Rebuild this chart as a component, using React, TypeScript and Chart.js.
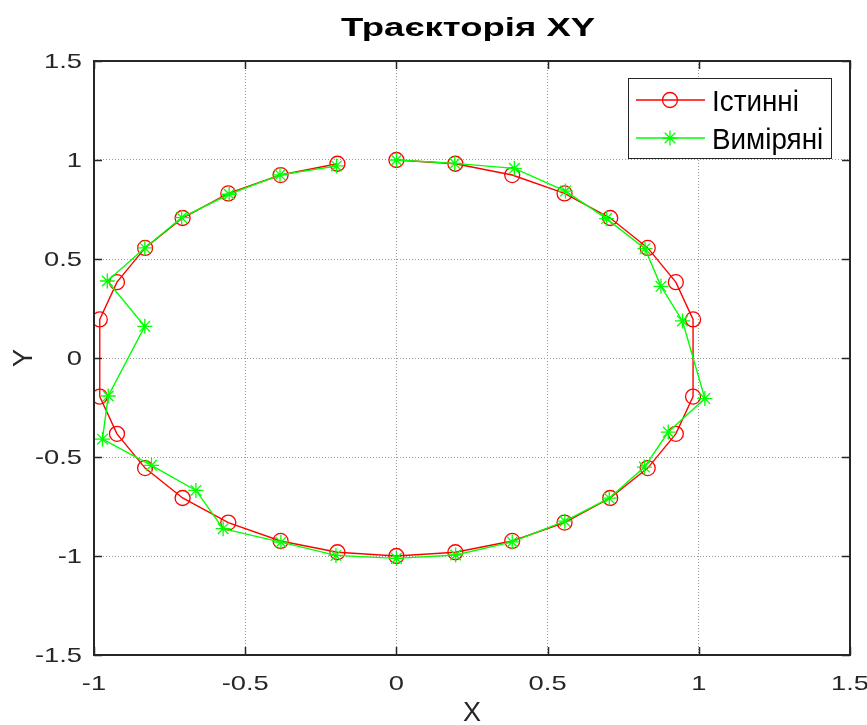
import React, { useEffect, useRef } from "react";
import { Chart, registerables } from "chart.js";

Chart.register(...registerables);

// Labels
const titleText = "Траєкторія XY";
const xAxisLabel = "X";
const yAxisLabel = "Y";
const trueName = "Істинні";
const measuredName = "Виміряні";

// Axis ticks
const xTicks = [-1, -0.5, 0, 0.5, 1, 1.5];
const yTicks = [-1.5, -1, -0.5, 0, 0.5, 1, 1.5];
const xTickLabels = ["-1", "-0.5", "0", "0.5", "1", "1.5"];
const yTickLabels = ["-1.5", "-1", "-0.5", "0", "0.5", "1", "1.5"];

// True trajectory
const trueX = [0, 0.195, 0.383, 0.556, 0.707, 0.831, 0.924, 0.981, 0.981, 0.924, 0.831, 0.707, 0.556, 0.383, 0.195, 0, -0.195, -0.383, -0.556, -0.707, -0.831, -0.924, -0.981, -0.981, -0.924, -0.831, -0.707, -0.556, -0.383, -0.195];
const trueY = [1, 0.981, 0.924, 0.831, 0.707, 0.556, 0.383, 0.195, -0.195, -0.383, -0.556, -0.707, -0.831, -0.924, -0.981, -1, -0.981, -0.924, -0.831, -0.707, -0.556, -0.383, -0.195, 0.195, 0.383, 0.556, 0.707, 0.831, 0.924, 0.981];

// Measured trajectory
const measuredX = [0, 0.193, 0.39, 0.559, 0.695, 0.822, 0.875, 0.946, 1.02, 0.899, 0.82, 0.704, 0.557, 0.383, 0.196, 0, -0.2, -0.382, -0.573, -0.663, -0.81, -0.972, -0.953, -0.832, -0.956, -0.832, -0.71, -0.553, -0.385, -0.198];
const measuredY = [1.0, 0.983, 0.958, 0.843, 0.704, 0.552, 0.362, 0.187, -0.205, -0.374, -0.551, -0.708, -0.824, -0.929, -0.995, -1.012, -0.997, -0.93, -0.862, -0.669, -0.542, -0.41, -0.192, 0.16, 0.389, 0.556, 0.709, 0.827, 0.925, 0.97];

const FONT = "'Liberation Sans', Arial, Helvetica, sans-serif";
const AXIS_COLOR = "#262626";
const GRID_COLOR = "#9a9a9a";
const RED = "#ff0000";
const GREEN = "#00ff00";

function drawText(
  ctx: CanvasRenderingContext2D,
  s: string,
  x: number,
  y: number,
  font: string,
  align: CanvasTextAlign,
  baseline: CanvasTextBaseline,
  sx = 1,
  rot = 0,
  color = "#000"
) {
  ctx.save();
  ctx.font = font;
  ctx.fillStyle = color;
  ctx.textAlign = align;
  ctx.textBaseline = baseline;
  ctx.translate(x, y);
  if (rot) ctx.rotate(rot);
  ctx.scale(sx, 1);
  ctx.fillText(s, 0, 0);
  ctx.restore();
}

function circleMark(ctx: CanvasRenderingContext2D, x: number, y: number, r: number) {
  ctx.beginPath();
  ctx.arc(x, y, r, 0, Math.PI * 2);
  ctx.stroke();
}

function starMark(ctx: CanvasRenderingContext2D, x: number, y: number, r: number) {
  ctx.beginPath();
  for (let k = 0; k < 4; k++) {
    const a = (k * Math.PI) / 4;
    ctx.moveTo(x - r * Math.cos(a), y - r * Math.sin(a));
    ctx.lineTo(x + r * Math.cos(a), y + r * Math.sin(a));
  }
  ctx.stroke();
}

const framePlugin = {
  id: "matFrame",
  afterDatasetsDraw(chart: any) {
    const { ctx, chartArea: a, scales } = chart;
    const xs = scales.x;
    const ys = scales.y;
    ctx.save();

    // axes box with inward ticks on every side
    ctx.strokeStyle = AXIS_COLOR;
    ctx.lineWidth = 1.5;
    const tl = 8;
    ctx.beginPath();
    xTicks.forEach((v) => {
      const px = Math.round(xs.getPixelForValue(v)) + 0.5;
      ctx.moveTo(px, a.bottom);
      ctx.lineTo(px, a.bottom - tl);
      ctx.moveTo(px, a.top);
      ctx.lineTo(px, a.top + tl);
    });
    yTicks.forEach((v) => {
      const py = Math.round(ys.getPixelForValue(v)) + 0.5;
      ctx.moveTo(a.left, py);
      ctx.lineTo(a.left + tl, py);
      ctx.moveTo(a.right, py);
      ctx.lineTo(a.right - tl, py);
    });
    ctx.stroke();
    ctx.lineWidth = 2;
    ctx.strokeRect(a.left, a.top, a.right - a.left, a.bottom - a.top);

    // tick labels
    const tickFont = `21px ${FONT}`;
    xTicks.forEach((v, i) => {
      drawText(ctx, xTickLabels[i], xs.getPixelForValue(v), a.bottom + 35, tickFont, "center", "alphabetic", 1.3, 0, AXIS_COLOR);
    });
    yTicks.forEach((v, i) => {
      drawText(ctx, yTickLabels[i], a.left - 12, ys.getPixelForValue(v) + 1, tickFont, "right", "middle", 1.3, 0, AXIS_COLOR);
    });

    // axis titles and chart title
    const midX = (a.left + a.right) / 2;
    const midY = (a.top + a.bottom) / 2;
    drawText(ctx, xAxisLabel, midX, 721, `27px ${FONT}`, "center", "alphabetic", 1, 0, AXIS_COLOR);
    drawText(ctx, yAxisLabel, 32, midY, `27px ${FONT}`, "center", "alphabetic", 1, -Math.PI / 2, AXIS_COLOR);
    drawText(ctx, titleText, 468, 36, `bold 25px ${FONT}`, "center", "alphabetic", 1.46);

    // legend
    const lx = 628, ly = 78, lw = 203, lh = 80;
    ctx.fillStyle = "#fff";
    ctx.fillRect(lx, ly, lw, lh);
    ctx.strokeStyle = AXIS_COLOR;
    ctx.lineWidth = 1;
    ctx.strokeRect(lx + 0.5, ly + 0.5, lw, lh);
    const rows = [
      { name: trueName, color: RED, y: 100, mark: circleMark },
      { name: measuredName, color: GREEN, y: 138, mark: starMark },
    ];
    rows.forEach((r) => {
      ctx.strokeStyle = r.color;
      ctx.lineWidth = 1.3;
      ctx.beginPath();
      ctx.moveTo(636, r.y);
      ctx.lineTo(705, r.y);
      ctx.stroke();
      r.mark(ctx, 670, r.y, 7.5);
      drawText(ctx, r.name, 712, r.y + 11, `29px ${FONT}`, "left", "alphabetic", 0.96);
    });

    ctx.restore();
  },
};

export default function App() {
  const ref = useRef<HTMLCanvasElement>(null);

  useEffect(() => {
    const canvas = ref.current;
    if (!canvas) return;
    const chart = new Chart(canvas, {
      type: "scatter",
      data: {
        datasets: [
          {
            label: trueName,
            data: trueX.map((x, i) => ({ x, y: trueY[i] })),
            showLine: true,
            borderColor: RED,
            backgroundColor: "rgba(0,0,0,0)",
            borderWidth: 1.4,
            pointStyle: "circle",
            pointRadius: 7.5,
            pointBorderWidth: 1.3,
            order: 2,
          },
          {
            label: measuredName,
            data: measuredX.map((x, i) => ({ x, y: measuredY[i] })),
            showLine: true,
            borderColor: GREEN,
            backgroundColor: "rgba(0,0,0,0)",
            borderWidth: 1.4,
            pointStyle: "star",
            pointRadius: 7.5,
            pointBorderWidth: 1.3,
            order: 1,
          },
        ],
      },
      options: {
        animation: false,
        responsive: false,
        devicePixelRatio: 1,
        layout: { padding: { top: 61, right: 17, left: 0, bottom: 0 } },
        plugins: {
          legend: { display: false },
          title: { display: false },
          tooltip: { enabled: false },
        },
        scales: {
          x: {
            type: "linear",
            min: -1,
            max: 1.5,
            afterBuildTicks: (s: any) => {
              s.ticks = xTicks.map((value) => ({ value }));
            },
            afterFit: (s: any) => {
              s.height = 70;
            },
            ticks: { display: false },
            grid: { color: GRID_COLOR, lineWidth: 1, drawTicks: false },
            border: { display: false, dash: [1, 2] },
          },
          y: {
            type: "linear",
            min: -1.5,
            max: 1.5,
            afterBuildTicks: (s: any) => {
              s.ticks = yTicks.map((value) => ({ value }));
            },
            afterFit: (s: any) => {
              s.width = 94;
            },
            ticks: { display: false },
            grid: { color: GRID_COLOR, lineWidth: 1, drawTicks: false },
            border: { display: false, dash: [1, 2] },
          },
        },
      },
      plugins: [framePlugin],
    });
    return () => chart.destroy();
  }, []);

  return (
    <div style={{ position: "fixed", left: 0, top: 0, width: 867, height: 725, background: "#fff" }}>
      <canvas ref={ref} width={867} height={725} style={{ display: "block", width: 867, height: 725 }} />
    </div>
  );
}
